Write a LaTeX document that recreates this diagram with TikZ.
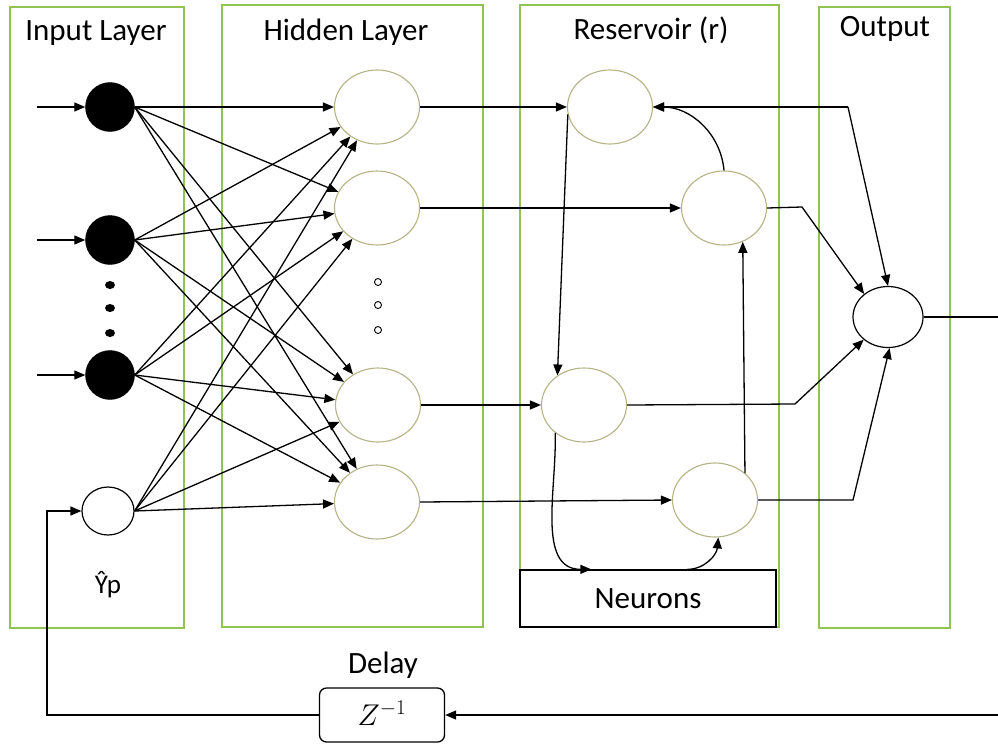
\RequirePackage{fix-cm}
\documentclass[tikz,border=0pt]{standalone}
\usepackage{fontspec}
\setmainfont{Carlito}
\usetikzlibrary{arrows.meta,shapes.geometric,calc}
\definecolor{boxgreen}{RGB}{146,196,84}
\definecolor{cellrim}{RGB}{180,180,135}
\begin{document}
\begin{tikzpicture}[x=1pt,y=1pt,
  layerbox/.style={draw=boxgreen,line width=1.2pt},
  title/.style={font=\fontsize{31}{37}\selectfont,anchor=base,inner sep=0pt},
  innode/.style={circle,fill=black,draw=black,minimum size=49pt,inner sep=0pt},
  fbnode/.style={ellipse,draw=black,line width=1.2pt,minimum width=52pt,minimum height=48pt,inner sep=0pt},
  cell/.style={ellipse,draw=cellrim,line width=1.1pt,fill=white,minimum width=85pt,minimum height=74pt,inner sep=0pt},
  sumnode/.style={ellipse,draw=black,line width=1.2pt,minimum width=70pt,minimum height=61pt,inner sep=0pt},
  bigdot/.style={ellipse,fill=black,minimum width=10pt,minimum height=8pt,inner sep=0pt},
  smallring/.style={circle,draw=black,line width=0.9pt,minimum size=7pt,inner sep=0pt},
  arr/.style={line width=1.3pt,-{Triangle[length=11pt,width=9pt]}},
  wire/.style={line width=1.3pt}]

% canvas
\path[use as bounding box,fill=white] (0,0) rectangle (998,-745);

% layer frames
\draw[layerbox] (10,-7) rectangle (184,-628);
\draw[layerbox] (222,-5) rectangle (483,-627);
\draw[layerbox] (520,-5) rectangle (779,-627);
\draw[layerbox] (819,-7) rectangle (950,-628);

% layer titles
\node[title] (tin)  at (96,-40)  {Input Layer};
\node[title] (thid) at (346,-40) {Hidden Layer};
\node[title] (tres) at (651,-39) {Reservoir (r)};
\node[title] (tout) at (885,-36) {Output};

% input layer
\node[innode] (i1) at (110,-107) {};
\node[innode] (i2) at (110,-240) {};
\node[innode] (i3) at (110,-375) {};
\node[bigdot] (d1) at (110,-285) {};
\node[bigdot] (d2) at (110,-308) {};
\node[bigdot] (d3) at (110,-333) {};
\node[fbnode] (iy) at (108,-511) {};
\node[title,font=\fontsize{27}{32}\selectfont] (ylab) at (108,-593) {Ŷp};

\coordinate (in1) at (37,-107);
\coordinate (in2) at (37,-240);
\coordinate (in3) at (37,-375);
\draw[arr] (in1) -- (i1);
\draw[arr] (in2) -- (i2);
\draw[arr] (in3) -- (i3);

% hidden layer
\node[cell] (h1) at (377,-107) {};
\node[cell] (h2) at (377,-208) {};
\node[cell] (h3) at (378,-405) {};
\node[cell] (h4) at (377,-502) {};
\node[smallring] (e1) at (378,-282) {};
\node[smallring] (e2) at (378,-305) {};
\node[smallring] (e3) at (378,-330) {};

% fully connected input -> hidden
\foreach \s in {i1,i2,i3,iy}
  \foreach \t in {h1,h2,h3,h4}
    \draw[arr] (\s.east) -- (\t);

% reservoir
\node[cell] (r1) at (610,-107) {};
\node[cell] (r2) at (724,-208) {};
\node[cell] (r3) at (584,-405) {};
\node[cell] (r4) at (715,-500) {};
\node[draw=black,line width=1.3pt,minimum width=256pt,minimum height=57pt,inner sep=0pt,
      font=\fontsize{31}{37}\selectfont] (nr) at (648,-598.5) {Neurons};

\draw[arr] (h1) -- (r1);
\draw[arr] (h2) -- (r2);
\draw[arr] (h3) -- (r3);
\draw[arr] (h4.east) -- (r4.west);

\coordinate (nrin)  at ($(nr.north west)+(72,0)$);
\coordinate (nrout) at ($(nr.north west)+(168,0)$);
\draw[arr] (r1.190) -- (r3.132);
\draw[arr] (r3.224) to[out=-88,in=180] (nrin);
\draw[arr] (nrout) to[out=0,in=-95] (r4.-85);
\draw[arr] (r4.42) -- (r2.-61);
\draw[arr] (r2.north) to[out=95,in=0] (r1.east);

% output unit
\node[sumnode] (o) at (888,-317) {};
\coordinate (fb) at (848,-107);
\draw[arr] (fb) -- (r1.east);
\draw[arr] (fb) -- (o.north);
\draw[arr] (r2.east) -- (802,-207) -- (o.136);
\draw[arr] (r3.east) -- (795,-404) -- (o.223);
\draw[arr] (r4.east) -- (853,-500) -- (o.-87);
\coordinate (rightout) at (998,-317);
\draw[wire] (o.east) -- (rightout);

% delay feedback
\node[draw=black,line width=1.3pt,rounded corners=7pt,minimum width=125pt,minimum height=54pt,
      inner sep=0pt,font=\fontsize{30}{36}\selectfont] (dl) at (382,-715) {\raisebox{4pt}{$Z^{-1}$}};
\node[title] (dlab) at (383,-673) {Delay};
\coordinate (rightin) at (998,-715);
\draw[arr] (rightin) -- (dl.east);
\draw[arr] (dl.west) -- (47,-715) |- (iy.west);

\end{tikzpicture}
\end{document}
